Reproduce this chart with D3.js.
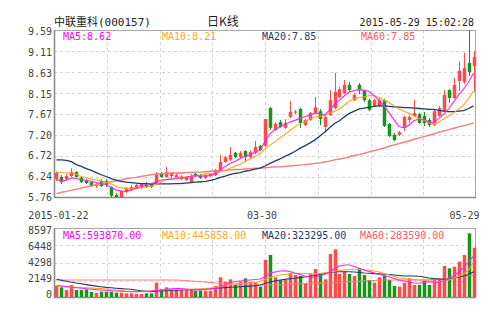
<!DOCTYPE html>
<html><head><meta charset="utf-8">
<script src="https://cdn.jsdelivr.net/npm/d3@7/dist/d3.min.js"></script>
<style>html,body{margin:0;padding:0;background:#fff;}svg{display:block}</style>
</head><body><svg id="c" width="500" height="326"></svg>
<script>
const dates = ["01-22","01-23","01-26","01-27","01-28","01-29","01-30",
"02-02","02-03","02-04","02-05","02-06","02-09","02-10","02-11","02-12","02-13","02-16","02-17","02-25","02-26","02-27",
"03-02","03-03","03-04","03-05","03-06","03-09","03-10","03-11","03-12","03-13","03-16","03-17","03-18","03-19","03-20","03-23","03-24","03-25","03-26","03-27","03-30","03-31",
"04-01","04-02","04-03","04-07","04-08","04-09","04-10","04-13","04-14","04-15","04-16","04-17","04-20","04-21","04-22","04-23","04-24","04-27","04-28","04-29","04-30",
"05-04","05-05","05-06","05-07","05-08","05-11","05-12","05-13","05-14","05-15","05-18","05-19","05-20","05-21","05-22","05-25","05-26","05-27","05-28","05-29"];

const open = [6.19,6.24,6.19,6.26,6.35,6.22,6.17,6.12,6.03,6.15,
6.15,6.01,5.83,5.78,5.90,5.94,5.99,6.01,6.08,6.08,
6.10,6.33,6.24,6.26,6.22,6.19,6.17,6.12,6.31,6.28,
6.22,6.26,6.28,6.40,6.58,6.63,6.79,6.69,6.83,6.69,
6.79,6.95,6.95,7.81,7.31,7.49,7.36,7.61,7.71,7.79,
7.42,7.54,7.70,7.74,7.38,7.65,7.81,8.06,8.15,8.34,
7.99,8.34,8.20,7.99,7.86,7.86,7.99,7.45,7.20,7.20,
7.36,7.54,7.63,7.67,7.63,7.54,7.42,7.63,7.74,8.22,
8.04,8.43,8.40,8.84,8.77];
const high = [6.37,6.28,6.31,6.44,6.37,6.26,6.19,6.15,6.10,6.19,
6.19,6.03,5.87,5.94,6.01,6.06,6.08,6.10,6.12,6.10,
6.35,6.35,6.47,6.35,6.33,6.28,6.26,6.31,6.33,6.31,
6.31,6.33,6.42,6.74,6.72,6.92,6.81,6.83,6.85,6.85,
7.06,6.97,7.56,7.83,7.49,7.54,7.56,7.97,7.77,7.81,
7.56,7.72,8.06,7.79,7.63,8.22,8.61,8.29,8.45,8.40,
8.15,8.38,8.22,8.02,8.02,8.04,8.02,7.47,7.24,7.29,
7.63,7.65,7.99,7.70,7.72,7.58,7.77,7.86,8.22,8.24,
8.50,8.88,9.07,9.59,9.11];
const low = [6.15,6.08,6.15,6.24,6.22,6.10,6.08,6.01,5.99,6.01,
6.01,5.78,5.76,5.76,5.87,5.92,5.96,5.96,5.99,5.99,
6.08,6.22,6.22,6.22,6.19,6.17,6.15,6.10,6.24,6.19,
6.19,6.24,6.26,6.37,6.56,6.60,6.67,6.67,6.58,6.67,
6.76,6.83,6.92,7.31,7.29,7.36,7.33,7.58,7.67,7.36,
7.40,7.52,7.67,7.42,7.26,7.63,7.79,8.04,8.13,8.18,
7.97,8.13,7.95,7.74,7.83,7.83,7.38,7.15,7.06,7.17,
7.29,7.47,7.61,7.45,7.40,7.38,7.40,7.61,7.72,7.93,
8.02,8.20,8.36,8.54,8.18];
const close = [6.33,6.12,6.26,6.35,6.24,6.12,6.10,6.03,6.08,6.03,
6.06,5.81,5.78,5.92,5.99,6.01,6.06,6.08,6.01,6.01,
6.31,6.24,6.35,6.33,6.28,6.25,6.24,6.26,6.26,6.22,
6.28,6.31,6.40,6.58,6.69,6.74,6.69,6.79,6.69,6.81,
6.92,6.85,7.56,7.36,7.45,7.38,7.47,7.72,7.73,7.47,
7.54,7.70,7.83,7.56,7.61,7.99,8.18,8.24,8.34,8.22,
8.11,8.22,7.99,7.77,7.99,7.99,7.40,7.17,7.08,7.26,
7.61,7.61,7.70,7.47,7.47,7.42,7.74,7.81,8.11,8.04,
8.34,8.66,8.72,8.63,8.97];

const ma5 = [6.19,6.14,6.17,6.22,6.20,6.18,6.16,6.14,6.11,6.09,
6.06,6.00,5.94,5.92,5.91,5.94,5.98,6.02,6.06,6.09,
6.12,6.17,6.18,6.19,6.20,6.22,6.23,6.25,6.27,6.26,
6.26,6.27,6.31,6.40,6.48,6.55,6.60,6.66,6.71,6.75,
6.80,6.85,7.05,7.22,7.32,7.38,7.44,7.49,7.53,7.57,
7.61,7.65,7.69,7.69,7.65,7.77,7.90,7.99,8.09,8.18,
8.21,8.23,8.22,8.18,8.09,7.98,7.86,7.70,7.54,7.39,
7.36,7.42,7.52,7.56,7.55,7.49,7.48,7.57,7.67,7.79,
7.95,8.11,8.24,8.40,8.61];
const ma10 = [6.34,6.34,6.33,6.33,6.30,6.25,6.22,6.19,6.17,6.15,
6.12,6.08,6.03,5.99,5.98,5.97,5.98,5.99,6.01,6.03,
6.07,6.12,6.17,6.19,6.22,6.23,6.24,6.26,6.27,6.28,
6.31,6.32,6.33,6.36,6.39,6.44,6.49,6.53,6.59,6.65,
6.71,6.77,6.88,6.96,7.04,7.13,7.21,7.30,7.38,7.45,
7.50,7.56,7.60,7.62,7.64,7.69,7.74,7.79,7.88,7.97,
8.02,8.05,8.07,8.09,8.09,8.05,7.99,7.93,7.86,7.79,
7.74,7.69,7.63,7.58,7.53,7.47,7.44,7.49,7.56,7.63,
7.70,7.79,7.88,8.02,8.20];
const ma20 = [6.63,6.63,6.62,6.59,6.52,6.48,6.43,6.39,6.34,6.29,
6.25,6.20,6.17,6.14,6.12,6.11,6.10,6.09,6.09,6.08,
6.08,6.08,6.08,6.08,6.09,6.09,6.10,6.11,6.12,6.13,
6.14,6.16,6.19,6.23,6.26,6.30,6.32,6.34,6.37,6.39,
6.42,6.44,6.49,6.55,6.60,6.65,6.71,6.76,6.82,6.89,
6.95,7.01,7.08,7.17,7.26,7.36,7.46,7.52,7.61,7.69,
7.74,7.79,7.81,7.83,7.85,7.86,7.86,7.85,7.84,7.83,
7.82,7.82,7.81,7.80,7.79,7.78,7.78,7.76,7.74,7.73,
7.73,7.74,7.75,7.80,7.86];
const ma60 = [5.86,5.89,5.91,5.94,5.96,5.99,6.01,6.04,6.06,6.09,
6.11,6.13,6.15,6.17,6.20,6.22,6.23,6.25,6.27,6.29,
6.30,6.31,6.32,6.33,6.33,6.33,6.34,6.34,6.35,6.35,
6.36,6.37,6.38,6.38,6.39,6.40,6.41,6.41,6.42,6.43,
6.44,6.44,6.45,6.46,6.47,6.47,6.48,6.49,6.50,6.51,
6.52,6.53,6.55,6.56,6.58,6.60,6.63,6.65,6.67,6.70,
6.73,6.75,6.78,6.81,6.84,6.87,6.90,6.94,6.97,7.00,
7.03,7.06,7.10,7.13,7.16,7.19,7.22,7.26,7.29,7.32,
7.35,7.38,7.41,7.44,7.47];

const volume = [1474,1310,982,1596,982,982,1064,737,655,778,
778,778,655,655,573,573,491,491,573,573,
1883,1064,1310,1064,1187,982,982,982,900,900,
900,900,1474,2538,2006,2292,1596,2006,2415,2000,
1900,1400,4666,5280,2538,2210,2210,3110,2824,2702,
1801,3029,3561,2947,2292,5403,5976,2947,3233,2947,
2702,3643,2824,2210,1883,2538,2702,2210,1474,1392,
1883,2415,1596,1596,2128,1596,2292,2415,3930,3643,
3847,4461,5280,7941,6182];
const volMa5 = [1560,1474,1388,1314,1253,1191,1130,1068,1019,982,
946,896,860,823,798,774,774,798,823,860,
921,982,1044,1130,1167,1167,1105,1044,982,982,
1044,1105,1167,1351,1658,1903,2026,2088,2149,2210,
2272,2333,2579,3070,3193,3316,3352,3254,3070,2886,
2702,2579,2542,2702,2886,3193,3623,3930,4052,4052,
3868,3623,3438,3254,3070,2886,2763,2579,2395,2210,
2088,1965,1842,1805,1903,2002,1965,1903,2088,2419,
2702,3193,3684,4421,5150];
const volMa10 = [1474,1437,1400,1363,1326,1289,1253,1216,1191,1154,
1105,1044,982,921,860,823,786,774,823,884,
946,982,1007,1032,1044,1056,1068,1068,1081,1105,
1167,1228,1314,1412,1535,1658,1719,1781,1817,1854,
1903,2026,2272,2517,2702,2824,2886,2947,3009,3033,
3009,2947,2947,3009,3107,3193,3291,3377,3438,3500,
3524,3524,3475,3402,3316,3193,3009,2824,2640,2456,
2395,2333,2272,2210,2174,2124,2063,2002,2088,2210,
2395,2640,2947,3438,4421];
const volMa20 = [2296,2174,2051,1940,1842,1744,1646,1547,1461,1375,
1302,1253,1203,1154,1105,1068,982,884,810,774,
835,884,909,933,958,982,1007,1032,1056,1068,
1105,1142,1191,1228,1277,1326,1351,1388,1424,1461,
1498,1596,1781,1965,2088,2210,2284,2358,2431,2505,
2579,2640,2763,2886,3009,3131,3217,3230,3230,3230,
3193,3131,3070,3033,2996,2959,2923,2873,2824,2763,
2702,2702,2702,2665,2579,2456,2382,2333,2296,2333,
2419,2542,2702,2886,3233];
const volMa60 = [2210,2210,2210,2210,2210,2210,2210,2210,2210,2210,
2210,2210,2210,2210,2210,2210,2210,2210,2210,2210,
2210,2210,2210,2210,2210,2174,2137,2088,2051,2002,
1965,1903,1842,1805,1768,1719,1682,1646,1621,1596,
1596,1596,1596,1596,1596,1596,1633,1670,1707,1744,
1768,1805,1805,1830,1854,1879,1903,1940,1965,2002,
2026,2051,2088,2124,2149,2174,2210,2210,2210,2210,
2210,2210,2210,2210,2235,2247,2272,2284,2309,2395,
2493,2579,2640,2726,2824];

const priceTicks = [9.59,9.11,8.63,8.15,7.67,7.20,6.72,6.24,5.76];
const priceTickLabels = ["9.59","9.11","8.63","8.15","7.67","7.20","6.72","6.24","5.76"];
const volTicks = [8597,6448,4298,2149,0];
const volTickLabels = ["8597","6448","4298","2149","0"];
const dateTicks = ["01-22","03-30","05-29"];
const dateTickLabels = ["2015-01-22","03-30","05-29"];

const title = "中联重科(000157)";
const chartType = "日K线";
const stamp = "2015-05-29 15:02:28";
const maNames = ["MA5","MA10","MA20","MA60"];
const priceMaLegend = ["8.62","8.21","7.85","7.85"];
const volMaLegend = ["593870.00","445858.00","323295.00","283590.00"];

const C_UP = "#ff4a4a", C_DN = "#15961a";
const maColors = ["#ff00ff","#ffa726","#1d3b6c","#ff5a5a"];
const maLineColors = ["#ff22ff","#ffa31a","#1d3b6c","#ff7a7a"];
const MONO = "'DejaVu Sans Mono', monospace";

const L = 54, R = 476, PT = 30, PB = 198, VT = 228, VB = 298;
const svg = d3.select("#c");

const x = d3.scaleBand().domain(dates).range([L, R]).paddingInner(0.3).paddingOuter(0.15);
const bw = x.bandwidth();
const cx = d => x(d) + bw / 2;
const y = d3.scaleLinear().domain([5.76, 9.59]).range([PB, PT]);
const yLab = d3.scaleLinear().domain([5.76, 9.59]).range([PB + 3, PT + 5.3]);
const yv = d3.scaleLinear().domain([0, 8597]).range([VB, VT]);
const yvLab = d3.scaleLinear().domain([0, 8597]).range([297.9, 234.3]);

// grids
function panel(top, bottom, hTicks, scale) {
  const g = svg.append("g");
  g.selectAll("line.h").data(hTicks.slice(1, -1)).join("line")
    .attr("x1", L).attr("x2", R).attr("y1", d => Math.round(scale(d)) + 0.5).attr("y2", d => Math.round(scale(d)) + 0.5)
    .attr("stroke", "#d4d4d4").attr("stroke-dasharray", "3,3");
  const cols = d3.range(1, 8).map(k => L + k * (R - L) / 8);
  g.selectAll("line.v").data(cols).join("line")
    .attr("x1", d => Math.round(d) + 0.5).attr("x2", d => Math.round(d) + 0.5).attr("y1", top).attr("y2", bottom)
    .attr("stroke", "#d4d4d4").attr("stroke-dasharray", "3,3");
  g.append("rect").attr("x", L + 0.5).attr("y", top + 0.5).attr("width", R - L - 1).attr("height", bottom - top - 1)
    .attr("fill", "none").attr("stroke", "#a8a8a8");
  g.append("path").attr("d", `M${L + 0.5},${top}V${bottom - 0.5}H${R}`).attr("fill", "none").attr("stroke", "#8c8c8c").attr("stroke-width", 1.6);
}
panel(PT, PB, priceTicks, y);
panel(VT, VB, volTicks, yv);

// y labels
svg.append("g").selectAll("text").data(priceTicks).join("text")
  .attr("x", 52).attr("y", d => yLab(d)).attr("text-anchor", "end")
  .attr("font-family", MONO).attr("font-size", 10).attr("fill", "#444")
  .text((d, i) => priceTickLabels[i]);
svg.append("g").selectAll("text").data(volTicks).join("text")
  .attr("x", 52).attr("y", d => yvLab(d)).attr("text-anchor", "end")
  .attr("font-family", MONO).attr("font-size", 10).attr("fill", "#444")
  .text((d, i) => volTickLabels[i]);

// x labels
const xl = svg.append("g").attr("font-family", MONO).attr("font-size", 10).attr("fill", "#444");
xl.append("text").attr("x", cx(dateTicks[0]) + 2).attr("y", 218.5).attr("text-anchor", "middle").text(dateTickLabels[0]);
xl.append("text").attr("x", cx(dateTicks[1]) - 3).attr("y", 218.5).attr("text-anchor", "middle").text(dateTickLabels[1]);
xl.append("text").attr("x", cx(dateTicks[2]) + 6).attr("y", 218.5).attr("text-anchor", "end").text(dateTickLabels[2]);

// candles
const idx = d3.range(dates.length);
const up = i => close[i] >= open[i];
const cg = svg.append("g");
cg.selectAll("line").data(idx).join("line")
  .attr("x1", i => Math.round(cx(dates[i])) + 0.5).attr("x2", i => Math.round(cx(dates[i])) + 0.5)
  .attr("y1", i => y(high[i])).attr("y2", i => y(low[i]))
  .attr("stroke", i => up(i) ? C_UP : C_DN).attr("stroke-width", 1);
cg.selectAll("rect").data(idx).join("rect")
  .attr("x", i => Math.round(cx(dates[i])) + 0.5 - 1.75).attr("width", 3.5)
  .attr("y", i => y(Math.max(open[i], close[i])))
  .attr("height", i => Math.max(1, Math.abs(y(open[i]) - y(close[i]))))
  .attr("fill", i => up(i) ? C_UP : C_DN);

// volume bars
svg.append("g").selectAll("rect").data(idx).join("rect")
  .attr("x", i => Math.round(cx(dates[i])) + 0.5 - 1.75).attr("width", 3.5)
  .attr("y", i => yv(volume[i])).attr("height", i => VB - 1 - yv(volume[i]))
  .attr("fill", i => up(i) ? C_UP : C_DN);

// MA lines
function maLine(arr, scale, color, w) {
  svg.append("path").datum(arr)
    .attr("d", d3.line().x((d, i) => cx(dates[i])).y(d => scale(d)))
    .attr("fill", "none").attr("stroke", color).attr("stroke-width", w);
}
maLine(ma60, y, maLineColors[3], 1.4);
maLine(ma20, y, maLineColors[2], 1.3);
maLine(ma10, y, maLineColors[1], 1.1);
maLine(ma5, y, maLineColors[0], 1.1);
maLine(volMa60, yv, maLineColors[3], 1.1);
maLine(volMa20, yv, maLineColors[2], 1.1);
maLine(volMa10, yv, maLineColors[1], 1.1);
maLine(volMa5, yv, maLineColors[0], 1.1);

// legends
const legX = [63, 162, 262, 361];
const legVX = [63, 162, 262, 360];
svg.append("g").selectAll("text").data(maNames).join("text")
  .attr("x", (d, i) => legX[i]).attr("y", 40).attr("font-family", MONO).attr("font-size", 10)
  .attr("fill", (d, i) => maColors[i]).text((d, i) => d + ":" + priceMaLegend[i]);
svg.append("g").selectAll("text").data(maNames).join("text")
  .attr("x", (d, i) => legVX[i]).attr("y", 238.5).attr("font-family", MONO).attr("font-size", 10)
  .attr("fill", (d, i) => maColors[i]).text((d, i) => d + ":" + volMaLegend[i]);

// header
svg.append("text").attr("x", 54).attr("y", 26).attr("font-family", "'DejaVu Sans Mono','Noto Sans CJK SC',sans-serif")
  .attr("font-size", 11).attr("fill", "#222").text(title);
svg.append("text").attr("x", 223).attr("y", 26).attr("text-anchor", "middle").attr("font-family", "'Noto Sans CJK SC',sans-serif")
  .attr("font-size", 12).attr("fill", "#222").text(chartType);
svg.append("text").attr("x", 474).attr("y", 26).attr("text-anchor", "end").attr("font-family", MONO)
  .attr("font-size", 10).attr("fill", "#222").text(stamp);
</script></body></html>
